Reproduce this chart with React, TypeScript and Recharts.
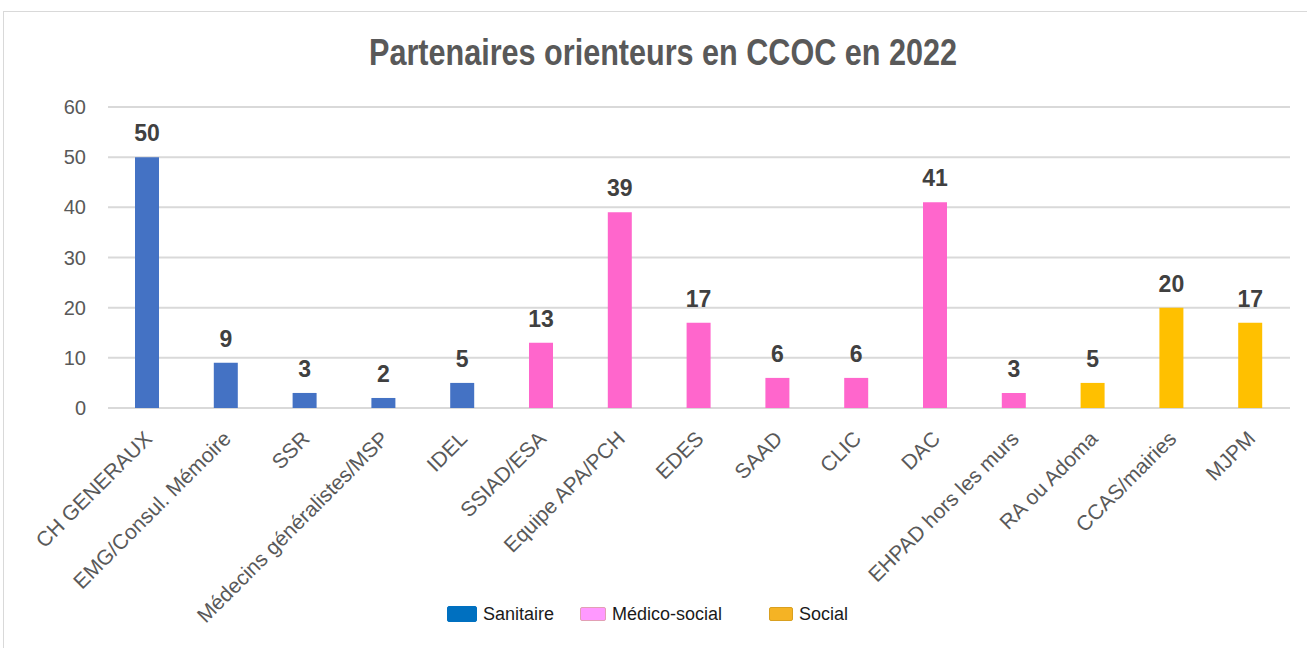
import React from 'react'
import { BarChart, Bar, XAxis, YAxis, CartesianGrid, Cell, LabelList } from 'recharts'

const categories = [
  'CH GENERAUX',
  'EMG/Consul. Mémoire',
  'SSR',
  'Médecins généralistes/MSP',
  'IDEL',
  'SSIAD/ESA',
  'Equipe APA/PCH',
  'EDES',
  'SAAD',
  'CLIC',
  'DAC',
  'EHPAD hors les murs',
  'RA ou Adoma',
  'CCAS/mairies',
  'MJPM',
]
const values = [50, 9, 3, 2, 5, 13, 39, 17, 6, 6, 41, 3, 5, 20, 17]
const groups = [
  'Sanitaire', 'Sanitaire', 'Sanitaire', 'Sanitaire', 'Sanitaire',
  'Médico-social', 'Médico-social', 'Médico-social', 'Médico-social', 'Médico-social', 'Médico-social', 'Médico-social',
  'Social', 'Social', 'Social',
]
const yTicks = [0, 10, 20, 30, 40, 50, 60]

const barColors: Record<string, string> = {
  Sanitaire: '#4472C4',
  'Médico-social': '#FF66CC',
  Social: '#FFC000',
}

const legendItems = [
  { name: 'Sanitaire', fill: '#0070C0', stroke: '#0070C0', left: 447, boxW: 30, boxH: 16 },
  { name: 'Médico-social', fill: '#FF99FF', stroke: '#E2A0B4', left: 580, boxW: 26, boxH: 14 },
  { name: 'Social', fill: '#F5B324', stroke: '#D9A020', left: 769, boxW: 24, boxH: 14 },
]

const data = categories.map((name, i) => ({ name, value: values[i], group: groups[i] }))

const narrow = '"Liberation Sans Narrow", "Arial Narrow", "Liberation Sans", Arial, sans-serif'
const sans = '"Liberation Sans", Arial, sans-serif'

function XTick(props: any) {
  const { x, y, payload } = props
  return (
    <text
      transform={`translate(${x + 6},${y + 30}) rotate(-45)`}
      textAnchor="end"
      fontFamily={sans}
      fontSize={21}
      fill="#595959"
    >
      {payload.value}
    </text>
  )
}

function ValueLabel(props: any) {
  const { x, y, width, value } = props
  return (
    <text
      x={x + width / 2}
      y={y - 16}
      textAnchor="middle"
      fontFamily={narrow}
      fontWeight="bold"
      fontSize={23}
      fill="#404040"
    >
      {value}
    </text>
  )
}

export default function App() {
  return (
    <div style={{ position: 'absolute', left: 0, top: 0, width: 1307, height: 648, background: '#fff', overflow: 'hidden' }}>
      <div
        style={{
          position: 'absolute',
          left: 3,
          top: 11,
          width: 1320,
          height: 660,
          border: '1.5px solid #D9D9D9',
        }}
      />
      <svg style={{ position: 'absolute', left: 0, top: 0 }} width={1307} height={100}>
        <text
          x={663}
          y={65}
          textAnchor="middle"
          fontFamily={narrow}
          fontWeight="bold"
          fontSize={36}
          fill="#595959"
          textLength={588}
          lengthAdjust="spacingAndGlyphs"
        >
          Partenaires orienteurs en CCOC en 2022
        </text>
      </svg>
      <div style={{ position: 'absolute', left: 0, top: 0 }}>
        <BarChart width={1307} height={648} data={data} margin={{ top: 107, right: 17, left: 0, bottom: 0 }}>
          <CartesianGrid vertical={false} stroke="#D9D9D9" strokeWidth={2} />
          <XAxis
            dataKey="name"
            interval={0}
            axisLine={false}
            tickLine={false}
            tickSize={0}
            height={240}
            tick={<XTick />}
          />
          <YAxis
            domain={[0, 60]}
            ticks={yTicks}
            axisLine={false}
            tickLine={false}
            tickSize={0}
            tickMargin={22}
            width={108}
            tick={{ fill: '#595959', fontSize: 20, fontFamily: sans }}
          />
          <Bar dataKey="value" barSize={24} isAnimationActive={false}>
            {data.map((d, i) => (
              <Cell key={i} fill={barColors[d.group]} />
            ))}
            <LabelList dataKey="value" content={<ValueLabel />} />
          </Bar>
        </BarChart>
      </div>
      {legendItems.map((it) => (
        <div
          key={it.name}
          style={{
            position: 'absolute',
            left: it.left,
            top: 603,
            height: 22,
            display: 'flex',
            alignItems: 'center',
            fontFamily: sans,
            fontSize: 18,
            color: '#1a1a1a',
          }}
        >
          <span
            style={{
              display: 'inline-block',
              width: it.boxW,
              height: it.boxH,
              background: it.fill,
              border: `1.5px solid ${it.stroke}`,
              borderRadius: 2,
              boxSizing: 'border-box',
              marginRight: 6,
            }}
          />
          {it.name}
        </div>
      ))}
    </div>
  )
}
